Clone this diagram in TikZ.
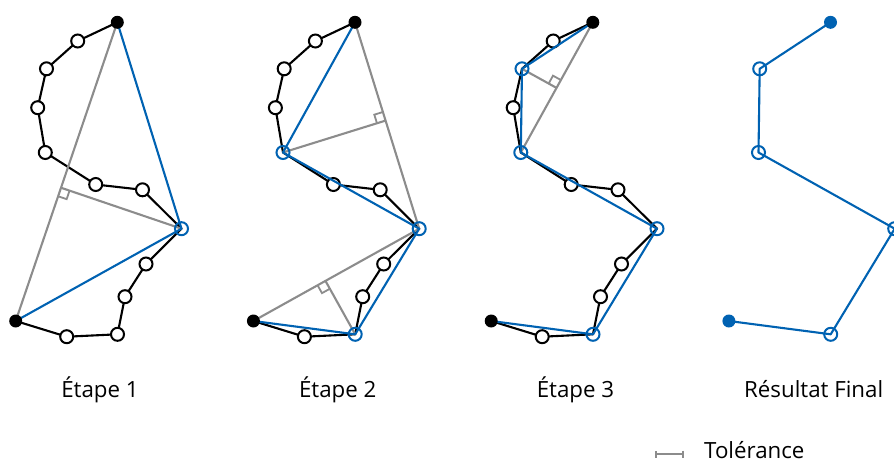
\documentclass[tikz,border=0pt]{standalone}
\usepackage{fontspec}
\setmainfont{Open Sans}
\usetikzlibrary{calc,arrows.meta}
\definecolor{dpblue}{RGB}{0,98,178}
\definecolor{dpgray}{RGB}{140,140,140}
\tikzset{
  ptc/.style={circle, draw=black, fill=white, line width=2pt, minimum size=13pt, inner sep=0pt},
  selc/.style={circle, draw=dpblue, line width=2pt, minimum size=13pt, inner sep=0pt},
  endp/.style={circle, fill=black, minimum size=13pt, inner sep=0pt},
  endb/.style={circle, fill=dpblue, minimum size=13pt, inner sep=0pt},
  poly/.style={line width=2.1pt, black, line join=round},
  guide/.style={line width=2.1pt, dpgray},
  simp/.style={line width=2.1pt, dpblue, line join=round},
  lab/.style={font=\fontsize{22.3}{27}\selectfont, anchor=base, inner sep=0pt},
}
\newcommand\mkpts[1]{%
  \coordinate (#10) at (117.3,22.3);
  \coordinate (#11) at (77.7,41);
  \coordinate (#12) at (46.5,68.8);
  \coordinate (#13) at (37.7,107.7);
  \coordinate (#14) at (45.3,152.5);
  \coordinate (#15) at (95.7,184.5);
  \coordinate (#16) at (142.5,189.8);
  \coordinate (#17) at (181.5,228.7);
  \coordinate (#18) at (146,264);
  \coordinate (#19) at (125,296.7);
  \coordinate (#110) at (117.5,334.3);
  \coordinate (#111) at (66.7,336.7);
  \coordinate (#112) at (15.7,321);
}
\newcommand\polyline[1]{%
  \draw[poly] (#10) -- (#11) -- (#12) -- (#13) -- (#14) -- (#15) -- (#16) -- (#17)
    -- (#18) -- (#19) -- (#110) -- (#111) -- (#112);
}
% right-angle mark: foot, point along the line, perpendicular point
\newcommand\rang[3]{%
  \coordinate (#1u) at ($(#1)!9pt!(#2)$);
  \coordinate (#1v) at ($(#1)!9pt!(#3)$);
  \coordinate (#1w) at ($(#1u)+(#1v)-(#1)$);
  \draw[guide, line width=1.8pt] (#1u) -- (#1w) -- (#1v);
}
\begin{document}
\begin{tikzpicture}[x=1pt, y=-1pt]
\useasboundingbox (0,0) rectangle (894,464);

% ---------- Etape 1
\begin{scope}
  \mkpts{a}
  \polyline{a}
  \foreach \i in {1,2,3,4,5,6,8,9,10,11} \node[ptc] (ac\i) at (a\i) {};
  \coordinate (af) at ($(a12)!(a7)!(a0)$);
  \draw[guide] (a12) -- (a0);
  \draw[guide] (a7) -- (af);
  \rang{af}{a12}{a7}
  \draw[simp] (a0) -- (a7) -- (a12);
  \node[selc] (ac7) at (a7) {};
  \node[endp] (ac0) at (a0) {};
  \node[endp] (ac12) at (a12) {};
\end{scope}

% ---------- Etape 2
\begin{scope}[shift={(237.7,0)}]
  \mkpts{b}
  \polyline{b}
  \foreach \i in {1,2,3,5,6,8,9,11} \node[ptc] (bc\i) at (b\i) {};
  \coordinate (bf) at ($(b0)!(b4)!(b7)$);
  \coordinate (bg) at ($(b7)!(b10)!(b12)$);
  \draw[guide] (b0) -- (b7) -- (b12);
  \draw[guide] (b4) -- (bf);
  \draw[guide] (b10) -- (bg);
  \rang{bf}{b0}{b4}
  \rang{bg}{b12}{b10}
  \draw[simp] (b0) -- (b4) -- (b7) -- (b10) -- (b12);
  \foreach \i in {4,7,10} \node[selc] (bs\i) at (b\i) {};
  \node[endp] (bc0) at (b0) {};
  \node[endp] (bc12) at (b12) {};
\end{scope}

% ---------- Etape 3
\begin{scope}[shift={(475.5,0)}]
  \mkpts{c}
  \polyline{c}
  \foreach \i in {1,3,5,6,8,9,11} \node[ptc] (cc\i) at (c\i) {};
  \coordinate (cf) at ($(c0)!(c2)!(c4)$);
  \draw[guide] (c0) -- (c4);
  \draw[guide] (c2) -- (cf);
  \rang{cf}{c0}{c2}
  \draw[simp] (c0) -- (c2) -- (c4) -- (c7) -- (c10) -- (c12);
  \foreach \i in {2,4,7,10} \node[selc] (cs\i) at (c\i) {};
  \node[endp] (cc0) at (c0) {};
  \node[endp] (cc12) at (c12) {};
\end{scope}

% ---------- Resultat final
\begin{scope}[shift={(713.2,0)}]
  \mkpts{d}
  \draw[simp] (d0) -- (d2) -- (d4) -- (d7) -- (d10) -- (d12);
  \foreach \i in {2,4,7,10} \node[selc] (ds\i) at (d\i) {};
  \node[endb] (dc0) at (d0) {};
  \node[endb] (dc12) at (d12) {};
\end{scope}

% ---------- labels
\node[lab] (l1) at (100,397) {Étape 1};
\node[lab] (l2) at (337.7,397) {Étape 2};
\node[lab] (l3) at (575.5,397) {Étape 3};
\node[lab] (l4) at (813.7,397) {Résultat Final};

% ---------- legend
\coordinate (t1) at (655,454);
\coordinate (t2) at (684,454);
\draw[dpgray, line width=1.8pt, {Bar[width=7pt]}-{Bar[width=7pt]}] (t1) -- (t2);
\node[lab, anchor=base west] (tol) at (704,458) {Tolérance};
\end{tikzpicture}
\end{document}
